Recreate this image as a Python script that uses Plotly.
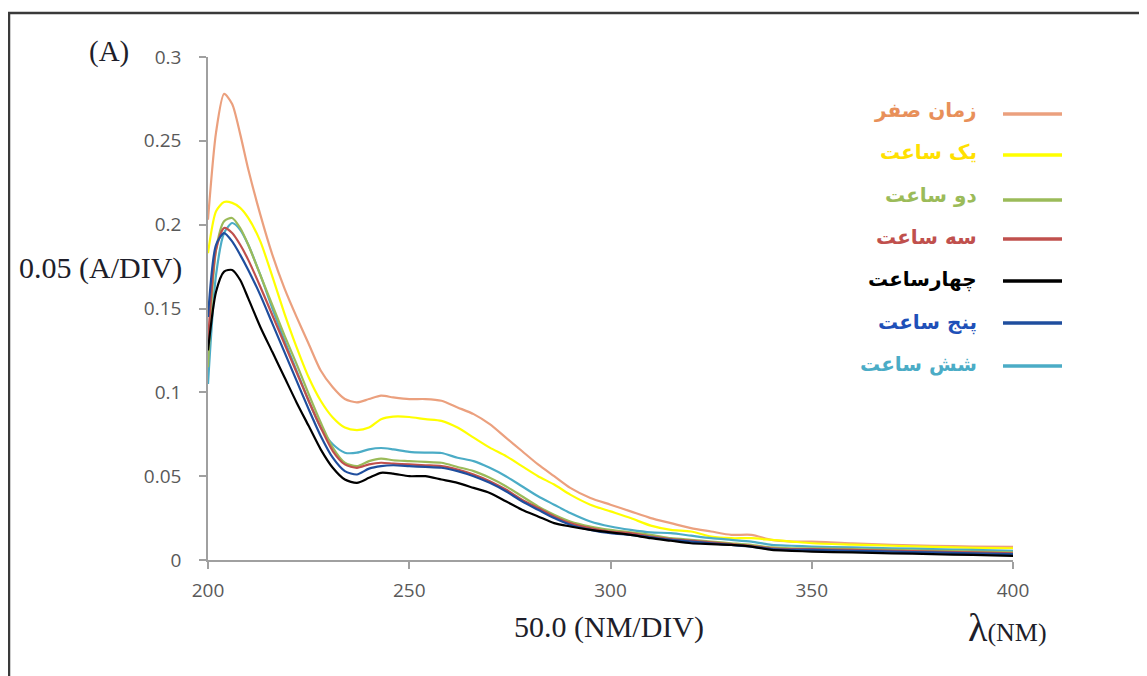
import plotly.graph_objects as go

# ---------------- data ----------------
wavelength = [200, 202, 204, 206, 208, 210, 213, 216, 219, 222, 225, 228, 231, 234, 237, 240,
              243, 246, 250, 254, 258, 262, 266, 270, 274, 278, 282, 286, 290, 295, 300, 305,
              310, 315, 320, 325, 330, 335, 340, 345, 350, 360, 370, 380, 390, 400]

t0 = [0.203, 0.255, 0.278, 0.272, 0.254, 0.233, 0.206, 0.182, 0.162, 0.145, 0.129, 0.113, 0.103, 0.096, 0.094, 0.096,
      0.098, 0.097, 0.096, 0.096, 0.095, 0.091, 0.087, 0.081, 0.073, 0.065, 0.057, 0.050, 0.043, 0.037, 0.033, 0.029,
      0.025, 0.022, 0.019, 0.017, 0.015, 0.015, 0.012, 0.011, 0.011, 0.010, 0.009, 0.0085, 0.008, 0.0078]

t1 = [0.183, 0.208, 0.2135, 0.213, 0.210, 0.204, 0.190, 0.169, 0.147, 0.127, 0.109, 0.095, 0.085, 0.079, 0.0775, 0.079,
      0.084, 0.0855, 0.0853, 0.084, 0.083, 0.079, 0.073, 0.067, 0.062, 0.056, 0.050, 0.045, 0.039, 0.033, 0.029, 0.025,
      0.0205, 0.018, 0.017, 0.014, 0.013, 0.013, 0.012, 0.011, 0.010, 0.0092, 0.0085, 0.0078, 0.0072, 0.007]

t2 = [0.115, 0.185, 0.202, 0.204, 0.198, 0.188, 0.170, 0.152, 0.134, 0.117, 0.099, 0.082, 0.067, 0.058, 0.056, 0.059,
      0.0605, 0.0595, 0.059, 0.0585, 0.058, 0.0555, 0.053, 0.049, 0.044, 0.038, 0.032, 0.027, 0.023, 0.020, 0.018, 0.0165,
      0.015, 0.013, 0.012, 0.011, 0.010, 0.009, 0.0075, 0.007, 0.007, 0.0065, 0.006, 0.0055, 0.005, 0.0045]

t3 = [0.130, 0.185, 0.198, 0.195, 0.188, 0.179, 0.163, 0.146, 0.129, 0.112, 0.095, 0.079, 0.065, 0.057, 0.055, 0.057,
      0.058, 0.0575, 0.057, 0.0565, 0.056, 0.054, 0.051, 0.047, 0.042, 0.036, 0.031, 0.026, 0.022, 0.019, 0.017, 0.016,
      0.014, 0.0125, 0.0115, 0.0105, 0.0095, 0.0085, 0.007, 0.0065, 0.0065, 0.006, 0.0055, 0.005, 0.0045, 0.004]

t4 = [0.125, 0.160, 0.172, 0.173, 0.167, 0.156, 0.139, 0.124, 0.109, 0.094, 0.080, 0.066, 0.055, 0.048, 0.046, 0.049,
      0.052, 0.0515, 0.050, 0.050, 0.048, 0.046, 0.043, 0.040, 0.035, 0.030, 0.026, 0.022, 0.020, 0.018, 0.0165, 0.015,
      0.013, 0.0115, 0.010, 0.0095, 0.009, 0.008, 0.006, 0.0055, 0.005, 0.0045, 0.004, 0.0035, 0.003, 0.0025]

t5 = [0.145, 0.188, 0.195, 0.190, 0.182, 0.173, 0.158, 0.141, 0.124, 0.107, 0.090, 0.074, 0.061, 0.053, 0.051, 0.0545,
      0.056, 0.0565, 0.056, 0.0555, 0.055, 0.053, 0.050, 0.046, 0.041, 0.035, 0.030, 0.025, 0.021, 0.018, 0.016, 0.015,
      0.0135, 0.012, 0.011, 0.010, 0.009, 0.008, 0.0065, 0.006, 0.006, 0.0055, 0.005, 0.0045, 0.004, 0.0035]

t6 = [0.105, 0.170, 0.195, 0.201, 0.197, 0.188, 0.170, 0.150, 0.131, 0.113, 0.095, 0.079, 0.069, 0.064, 0.064, 0.066,
      0.0668, 0.066, 0.0645, 0.064, 0.0638, 0.061, 0.059, 0.055, 0.050, 0.044, 0.038, 0.033, 0.028, 0.023, 0.020, 0.018,
      0.0165, 0.016, 0.0145, 0.013, 0.012, 0.011, 0.009, 0.0085, 0.008, 0.0075, 0.007, 0.0065, 0.006, 0.0055]

series_names = ["زمان صفر", "یک ساعت", "دو ساعت", "سه ساعت", "چهارساعت", "پنج ساعت", "شش ساعت"]
series_values = [t0, t1, t2, t3, t4, t5, t6]
line_colors = ["#EBA07E", "#FFFF00", "#9BBB59", "#C0504D", "#000000", "#1F4E9E", "#4BACC6"]
text_colors = ["#E8905A", "#FFE000", "#9BBB59", "#C0504D", "#000000", "#1F50B8", "#4BACC6"]

y_ticks = [0, 0.05, 0.1, 0.15, 0.2, 0.25, 0.3]
y_tick_labels = ["0", "0.05", "0.1", "0.15", "0.2", "0.25", "0.3"]
x_ticks = [200, 250, 300, 350, 400]
x_tick_labels = ["200", "250", "300", "350", "400"]

# ---------------- layout geometry ----------------
OFF = 8  # page body margin
W, H = 1147 - OFF, 676 - OFF
L, R, T, B = 208 - OFF, 1013 - OFF, 57 - OFF, 560 - OFF  # plot area in figure pixels


def px(x):
    """screen x pixel -> paper coordinate"""
    return (x - OFF - L) / (R - L)


def py(y):
    """screen y pixel -> paper coordinate"""
    return (B - (y - OFF)) / (B - T)


fig = go.Figure()

order = [0, 1, 6, 2, 3, 5, 4]
for i in order:
    fig.add_trace(go.Scatter(
        x=wavelength, y=series_values[i], mode="lines", name=series_names[i],
        line=dict(color=line_colors[i], width=2.2, shape="spline", smoothing=0.7),
        showlegend=False, hoverinfo="skip"))

axis_col = "#A0A0A0"
tick_font = dict(family="Open Sans, Liberation Sans, sans-serif", size=19, color="#595959")

fig.update_layout(
    width=W, height=H,
    margin=dict(l=L, r=W - R, t=T, b=H - B, pad=0),
    paper_bgcolor="white", plot_bgcolor="white",
    showlegend=False,
    xaxis=dict(range=[200, 400], tickvals=x_ticks, ticktext=x_tick_labels,
               showline=True, linecolor=axis_col, linewidth=1.5,
               ticks="outside", ticklen=7, tickcolor=axis_col, tickwidth=1.5,
               showgrid=False, zeroline=False, tickfont=tick_font, ticklabelstandoff=5),
    yaxis=dict(range=[0, 0.3], tickvals=y_ticks, ticktext=y_tick_labels,
               showline=True, linecolor=axis_col, linewidth=1.5,
               ticks="outside", ticklen=7, tickcolor=axis_col, tickwidth=1.5,
               showgrid=False, zeroline=False, tickfont=tick_font, ticklabelstandoff=14),
)

# frame around the figure (left and top edges visible)
frame_col = "#3A3A3A"
fig.add_shape(type="line", xref="paper", yref="paper",
              x0=px(9), x1=px(9), y0=py(13), y1=py(680),
              line=dict(color=frame_col, width=2.5))
fig.add_shape(type="line", xref="paper", yref="paper",
              x0=px(8), x1=px(1150), y0=py(13), y1=py(13),
              line=dict(color=frame_col, width=2.5))

serif = "Liberation Serif, Times New Roman, serif"
label_col = "#1E1E2A"

fig.add_annotation(text="(A)", xref="paper", yref="paper", x=px(87), y=py(52),
                   xanchor="left", yanchor="middle", showarrow=False,
                   font=dict(family=serif, size=29, color=label_col))
fig.add_annotation(text="0.05 (A/DIV)", xref="paper", yref="paper", x=px(17), y=py(268),
                   xanchor="left", yanchor="middle", showarrow=False,
                   font=dict(family=serif, size=30, color=label_col))
fig.add_annotation(text="50.0 (NM/DIV)", xref="paper", yref="paper", x=px(512), y=py(627),
                   xanchor="left", yanchor="middle", showarrow=False,
                   font=dict(family=serif, size=30, color=label_col))
fig.add_annotation(text="λ<span style='font-size:26px'>(NM)</span>", xref="paper", yref="paper",
                   x=px(966), y=py(627), xanchor="left", yanchor="middle", showarrow=False,
                   font=dict(family=serif, size=40, color=label_col))

# custom legend: right-aligned coloured text, line sample to its right
legend_text_y = [110, 152, 195, 237, 279, 322, 364]
legend_line_y = [114, 155, 200, 239, 281, 323, 366]
for i in range(len(series_names)):
    fig.add_annotation(text="<b>" + series_names[i] + "</b>", xref="paper", yref="paper",
                       x=px(979), y=py(legend_text_y[i]), xanchor="right", yanchor="middle",
                       showarrow=False,
                       font=dict(family="DejaVu Sans, sans-serif", size=20, color=text_colors[i]))
    fig.add_shape(type="line", xref="paper", yref="paper",
                  x0=px(1003), x1=px(1062), y0=py(legend_line_y[i]), y1=py(legend_line_y[i]),
                  line=dict(color=line_colors[i], width=3.5))

fig.write_html("out.html")
